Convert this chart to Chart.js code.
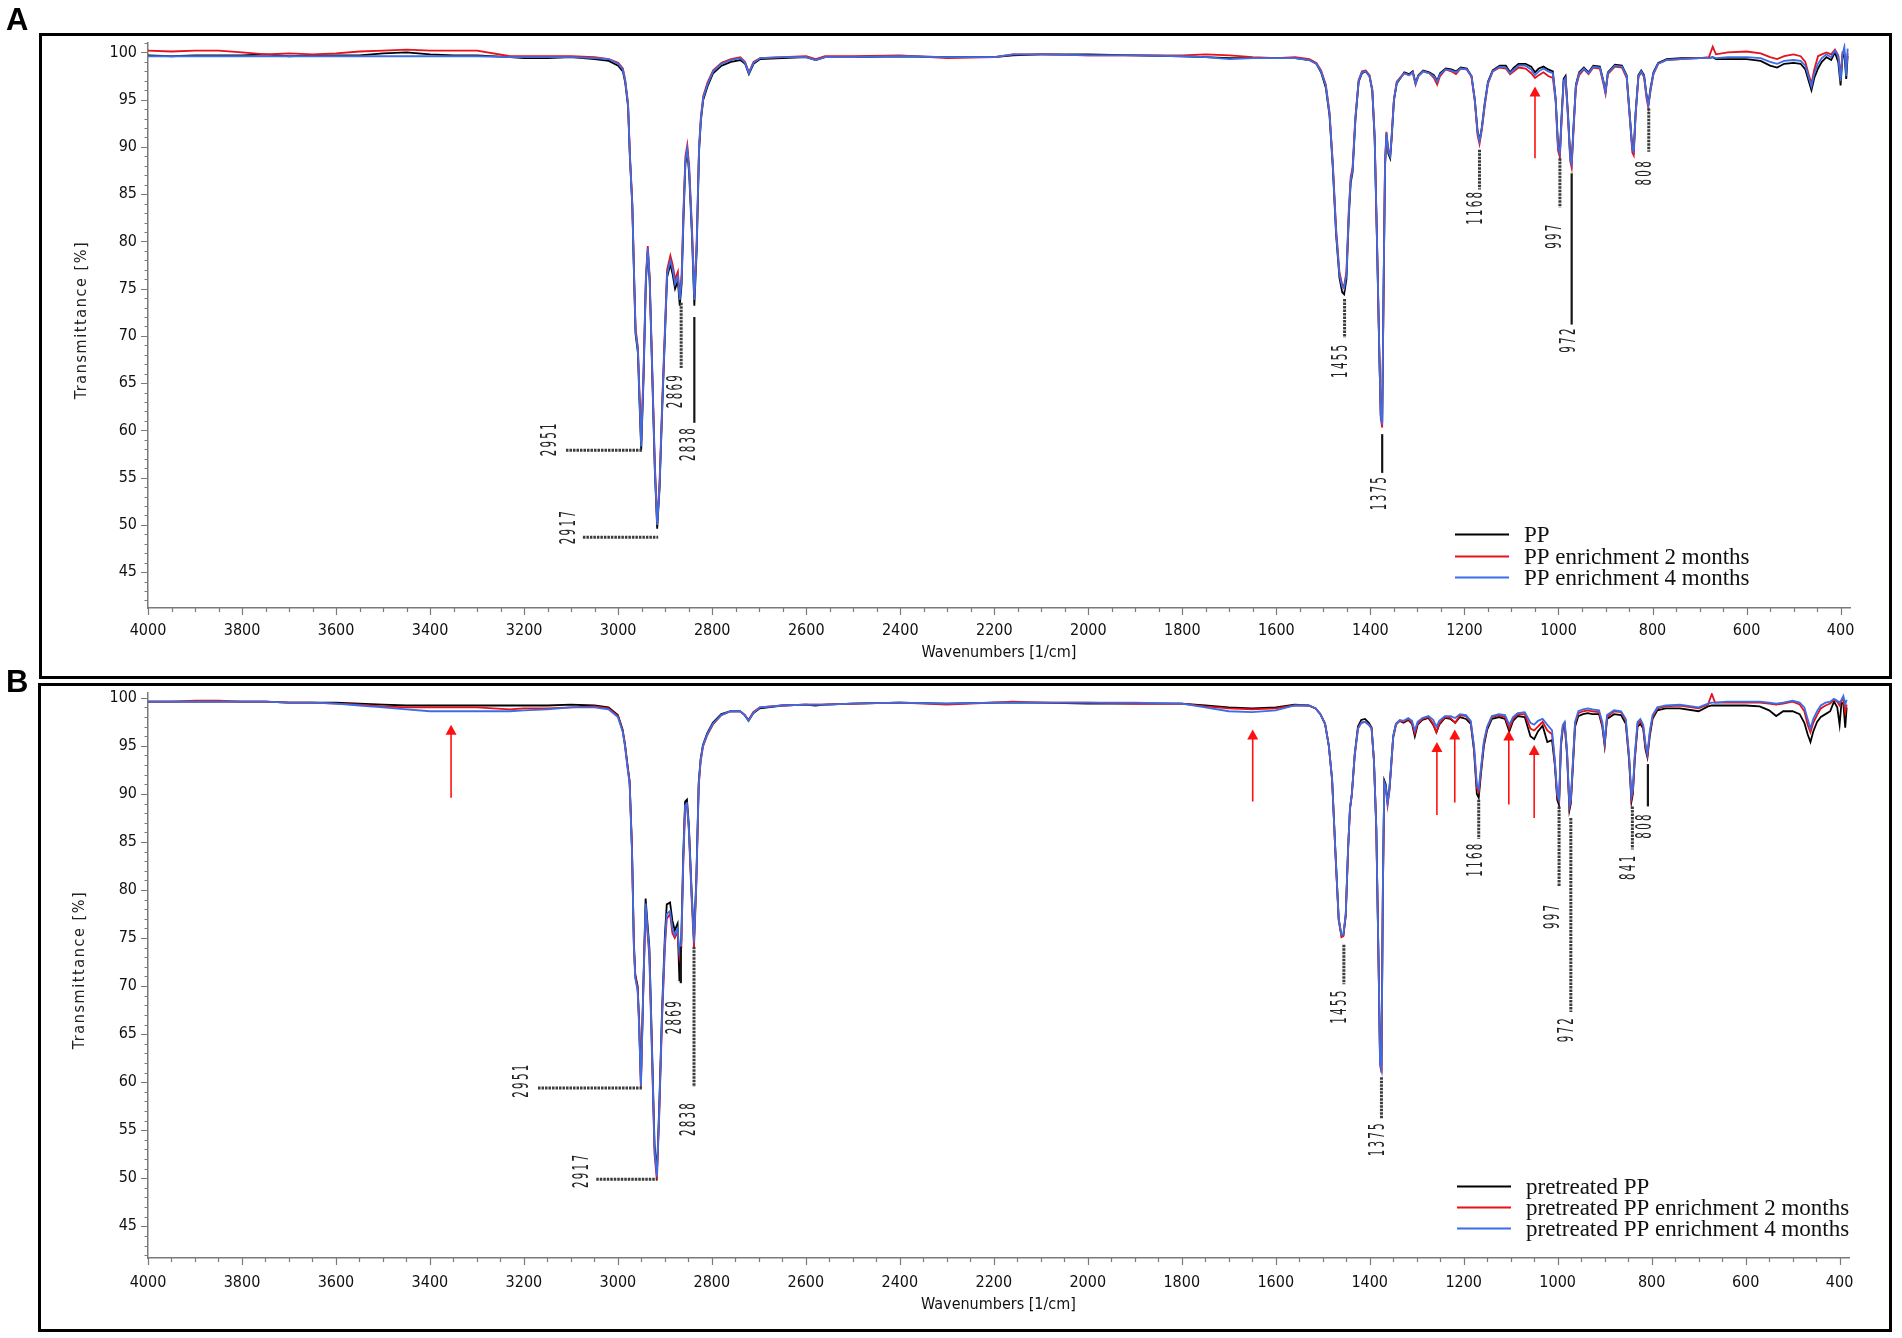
<!DOCTYPE html>
<html><head><meta charset="utf-8">
<script src="https://cdn.jsdelivr.net/npm/chart.js@4.4.1/dist/chart.umd.min.js"></script>
<style>
html,body{margin:0;padding:0;background:#fff;}
body{width:1902px;height:1338px;position:relative;overflow:hidden;}
canvas{position:absolute;left:0;}
#cA{top:0;width:1902px;height:680px;}
#cB{top:680px;width:1902px;height:658px;}
.box{position:absolute;border:3px solid #000;box-sizing:border-box;pointer-events:none;}
#boxA{left:39px;top:33px;width:1853px;height:646px;}
#boxB{left:38px;top:683px;width:1854px;height:649px;}
.tag{position:absolute;font:bold 31px "Liberation Sans",Arial,sans-serif;left:6px;line-height:1;}
#tagA{top:4px}
#tagB{top:666px}
</style></head>
<body>
<canvas id="cA" width="1902" height="680"></canvas>
<canvas id="cB" width="1902" height="658"></canvas>
<div class="box" id="boxA"></div><div class="box" id="boxB"></div>
<div class="tag" id="tagA">A</div><div class="tag" id="tagB">B</div>
<script>
// ---------------- DATA ----------------
const wavenumbers = [4000,3950,3900,3850,3800,3750,3700,3650,3600,3550,3500,3450,3400,3350,3300,
 3230,3200,3150,3100,3050,3020,3000,2990,2985,2979,
 2975,2970,2966,2963,2958,2955,2951,2946,2941,2937,
 2933,2928,2922,2917,2912,2906,2900,2896,2889,2884,
 2879,2873,2869,2865,2861,2857,2853,2849,2843,2838,
 2833,2828,2824,2819,2810,2798,2780,2760,2740,2730,
 2722,2712,2698,2650,2600,2580,2560,2500,2400,2300,
 2200,2160,2100,2000,1900,1800,1750,1700,1650,1600,
 1560,1530,1515,1505,1495,1487,1480,1473,1466,1460,
 1456,1451,1446,1442,1438,1432,1425,1418,1410,1402,
 1396,1391,1386,1381,1378,1375,1372,1369,1366,1362,
 1358,1355,1350,1344,1336,1328,1318,1310,1304,1298,
 1288,1275,1265,1258,1252,1240,1228,1218,1208,1195,
 1185,1178,1172,1168,1163,1157,1150,1140,1125,1112,
 1103,1095,1085,1070,1058,1050,1042,1032,1022,1012,
 1006,1001,997,993,989,985,980,975,972,968,
 963,956,946,936,926,912,905,900,895,880,
 865,855,848,843,840,836,830,824,818,813,
 809,804,798,788,770,740,700,680,672,665,
 640,600,570,550,535,520,500,485,475,468,
 462,456,448,440,430,420,412,405,400,396,
 392,388,385];

// Panel A
const ppA = [99.7,99.6,99.7,99.7,99.7,99.8,99.6,99.7,99.7,99.7,99.9,100.0,99.8,99.7,99.7,
 99.5,99.4,99.4,99.5,99.3,99.1,98.6,98.0,96.8,94.3,
 88.8,83.8,75.8,70.2,68.2,63.5,57.9,65.5,75.8,79.0,
 75.8,66.8,55.7,49.6,53.8,62.7,70.7,76.2,77.6,76.5,
 75.0,75.8,73.2,75.5,82.5,88.2,89.5,87.2,80.6,73.2,
 79.0,89.5,92.8,95.0,96.4,97.8,98.6,99.0,99.2,98.8,
 97.7,98.8,99.3,99.4,99.5,99.2,99.5,99.5,99.6,99.5,
 99.5,99.7,99.8,99.8,99.7,99.6,99.5,99.4,99.4,99.4,
 99.4,99.2,98.8,97.9,96.3,93.3,87.8,80.7,76.2,74.6,
 74.4,76.0,82.6,86.2,87.3,92.8,96.9,97.8,98.0,97.5,
 95.9,90.8,79.8,67.8,61.6,60.8,74.8,87.8,91.3,89.3,
 88.8,90.8,94.9,96.7,97.3,97.9,97.7,98.0,96.8,97.6,
 98.1,97.9,97.6,97.0,97.8,98.3,98.2,98.0,98.4,98.3,
 97.5,95.0,91.6,90.7,92.1,94.6,96.9,98.1,98.6,98.6,
 97.9,98.4,98.8,98.8,98.5,97.9,98.3,98.5,98.2,98.0,
 95.1,90.2,89.5,93.7,97.2,97.5,93.7,89.0,88.4,92.2,
 96.6,97.9,98.4,97.9,98.6,98.5,97.1,95.9,97.9,98.7,
 98.6,97.6,93.1,89.9,89.6,93.6,97.6,98.1,97.6,95.6,
 94.5,96.3,97.9,98.9,99.3,99.4,99.4,99.4,99.5,99.3,
 99.3,99.3,99.1,98.6,98.4,98.8,98.9,98.8,98.2,97.0,
 96.0,97.3,98.3,99.0,99.5,99.2,100.0,99.0,96.5,99.5,
 99.8,97.2,99.6];
const pp2A = [100.2,100.1,100.2,100.2,100.0,99.8,99.9,99.8,99.9,100.1,100.2,100.3,100.2,100.2,100.2,
 99.6,99.6,99.6,99.6,99.5,99.3,98.9,98.3,97.1,94.6,
 89.2,84.2,76.3,70.8,68.8,64.5,58.8,66.5,76.3,79.5,
 76.3,67.5,56.5,50.3,54.5,63.5,71.5,77.0,78.5,77.5,
 76.0,76.8,74.2,76.5,83.5,89.0,90.2,88.0,81.5,74.3,
 80.0,90.0,93.2,95.4,96.8,98.1,98.9,99.3,99.5,99.0,
 97.9,99.0,99.4,99.5,99.6,99.3,99.6,99.6,99.7,99.4,
 99.5,99.8,99.8,99.7,99.7,99.7,99.8,99.7,99.5,99.4,
 99.5,99.3,98.9,98.1,96.6,93.7,88.3,81.3,76.8,75.4,
 75.3,76.8,83.3,86.8,87.8,93.2,97.1,98.0,98.1,97.6,
 96.1,91.2,80.2,68.2,61.3,60.3,75.2,88.2,91.6,89.7,
 89.2,91.1,95.1,96.9,97.4,97.8,97.6,97.9,96.6,97.5,
 98.0,97.8,97.3,96.6,97.5,98.2,98.0,97.7,98.3,98.2,
 97.4,94.8,91.2,90.3,91.8,94.3,96.7,98.0,98.4,98.3,
 97.7,98.0,98.4,98.3,97.8,97.3,97.6,97.9,97.5,97.3,
 94.8,89.6,88.9,93.2,96.9,97.2,93.2,88.5,87.8,91.8,
 96.3,97.6,98.2,97.7,98.4,98.3,96.8,95.6,97.7,98.5,
 98.4,97.3,92.8,89.4,89.1,93.3,97.4,97.9,97.4,95.2,
 94.2,96.0,97.7,98.8,99.2,99.3,99.4,99.5,100.6,99.8,
 100.0,100.1,99.9,99.5,99.3,99.6,99.8,99.6,99.0,97.7,
 96.7,98.2,99.6,99.8,100.0,99.8,100.3,99.7,97.6,100.0,
 100.0,98.5,99.9];
const pp4A = [99.6,99.6,99.6,99.6,99.6,99.6,99.6,99.6,99.6,99.6,99.6,99.6,99.6,99.6,99.6,
 99.5,99.5,99.5,99.5,99.4,99.3,98.8,98.2,97.0,94.5,
 89.0,84.0,76.0,70.5,68.5,64.0,58.3,66.0,76.0,79.3,
 76.0,67.0,56.0,50.0,54.0,63.0,71.0,76.5,78.0,77.0,
 75.5,76.3,73.8,76.0,83.0,88.5,89.8,87.5,81.0,73.8,
 79.5,89.8,93.0,95.2,96.6,98.0,98.8,99.2,99.4,98.9,
 97.8,98.9,99.4,99.5,99.5,99.2,99.5,99.5,99.6,99.5,
 99.5,99.8,99.8,99.7,99.7,99.6,99.5,99.3,99.4,99.4,
 99.4,99.2,98.8,98.0,96.5,93.5,88.0,81.0,76.5,75.2,
 75.0,76.5,83.0,86.5,87.5,93.0,97.0,97.9,98.0,97.5,
 96.0,91.0,80.0,68.0,61.5,60.6,75.0,88.0,91.5,89.5,
 89.0,91.0,95.0,96.8,97.3,97.8,97.6,97.9,96.7,97.5,
 98.0,97.8,97.5,96.9,97.7,98.2,98.1,97.9,98.3,98.2,
 97.5,95.0,91.5,90.6,92.0,94.5,96.8,98.0,98.5,98.4,
 97.8,98.2,98.6,98.6,98.2,97.6,98.0,98.3,98.0,97.8,
 95.0,90.0,89.3,93.5,97.0,97.3,93.5,88.8,88.2,92.0,
 96.5,97.8,98.3,97.8,98.5,98.4,97.0,95.8,97.8,98.6,
 98.5,97.5,93.0,89.8,89.5,93.5,97.5,98.0,97.5,95.5,
 94.4,96.2,97.8,98.8,99.2,99.3,99.4,99.4,99.5,99.4,
 99.5,99.5,99.4,99.0,98.8,99.1,99.2,99.1,98.6,97.4,
 96.4,97.8,98.8,99.4,99.8,99.5,100.2,99.6,97.0,99.8,
 100.6,97.5,100.4];

// Panel B
const ppB = [99.6,99.6,99.6,99.6,99.6,99.6,99.5,99.5,99.5,99.4,99.3,99.2,99.2,99.2,99.2,
 99.2,99.2,99.2,99.3,99.2,99.0,98.2,96.7,95.2,92.8,
 91.3,84.4,74.5,71.2,70.0,66.5,60.0,69.8,79.1,76.5,
 74.0,64.8,53.5,50.5,57.5,67.5,75.2,78.5,78.7,76.8,
 75.8,76.5,70.5,75.0,83.5,89.2,89.4,86.8,79.8,74.8,
 81.3,91.2,93.6,95.1,96.3,97.4,98.3,98.6,98.6,98.2,
 97.6,98.4,98.9,99.2,99.3,99.2,99.3,99.4,99.5,99.4,
 99.5,99.5,99.5,99.4,99.4,99.4,99.2,99.0,98.9,99.0,
 99.3,99.2,98.9,98.3,97.3,95.0,91.5,84.0,77.0,75.2,
 75.3,77.4,84.3,88.5,90.0,94.1,97.0,97.7,97.8,97.4,
 96.9,93.5,86.5,72.0,62.3,61.6,80.2,91.4,91.0,89.2,
 90.6,92.6,96.0,97.3,97.6,97.4,97.7,97.3,96.0,97.2,
 97.7,97.9,97.2,96.4,97.2,97.9,97.8,97.4,98.0,97.8,
 97.3,94.5,90.0,89.6,92.2,95.0,96.7,97.8,98.0,97.8,
 96.5,97.6,98.1,98.0,96.0,95.7,96.5,97.1,95.4,95.6,
 93.0,89.4,88.8,95.0,96.8,97.2,94.0,88.3,89.0,92.5,
 97.0,98.1,98.3,98.4,98.3,98.3,97.0,95.0,97.8,98.3,
 98.2,97.3,93.5,89.2,90.0,93.5,97.0,97.3,96.8,94.6,
 93.8,96.0,97.8,98.7,98.9,98.9,98.6,99.1,99.2,99.2,
 99.2,99.2,99.1,98.7,98.1,98.6,98.6,98.3,97.4,96.2,
 95.4,96.5,97.5,98.0,98.3,98.6,99.6,99.0,97.2,99.5,
 99.4,96.9,99.0];
const pp2B = [99.6,99.6,99.7,99.7,99.6,99.6,99.5,99.5,99.4,99.3,99.1,99.0,99.0,99.0,99.0,
 98.8,98.9,98.9,99.0,99.1,98.9,98.1,96.6,95.1,92.7,
 91.2,84.2,74.3,71.0,69.8,66.5,59.4,69.5,78.2,75.5,
 73.0,63.8,52.5,49.8,56.5,66.5,74.0,77.0,77.5,75.5,
 75.0,75.6,73.0,74.0,82.5,88.5,88.8,86.2,79.0,74.0,
 80.6,90.8,93.3,94.9,96.1,97.2,98.2,98.6,98.6,98.2,
 97.7,98.5,99.0,99.2,99.3,99.3,99.3,99.4,99.5,99.3,
 99.5,99.6,99.5,99.5,99.4,99.4,99.1,98.9,98.8,98.9,
 99.2,99.2,98.9,98.3,97.3,95.0,91.4,83.8,76.8,75.1,
 75.2,77.3,84.2,88.4,89.9,93.9,96.8,97.4,97.5,97.2,
 96.8,93.4,86.3,71.8,61.8,61.0,79.8,91.0,90.6,88.8,
 90.3,92.3,95.8,97.2,97.6,97.5,97.8,97.4,96.3,97.3,
 97.8,98.0,97.3,96.4,97.3,98.0,97.9,97.4,98.2,98.1,
 97.5,94.8,90.6,90.2,92.6,95.3,96.9,98.0,98.2,98.0,
 96.8,97.8,98.3,98.3,96.8,96.6,97.0,97.5,96.6,96.2,
 93.3,89.8,89.2,95.3,97.0,97.3,94.3,88.6,89.2,92.8,
 97.3,98.4,98.6,98.7,98.6,98.5,97.2,95.2,98.0,98.6,
 98.5,97.6,93.8,89.5,90.2,93.7,97.3,97.6,97.0,94.9,
 94.0,96.3,98.0,98.9,99.1,99.2,98.9,99.3,100.4,99.5,
 99.5,99.5,99.5,99.4,99.3,99.4,99.6,99.3,98.6,97.2,
 96.4,97.4,98.2,98.9,99.2,99.4,99.8,99.6,99.2,99.7,
 99.8,98.5,99.3];
const pp4B = [99.6,99.6,99.6,99.6,99.6,99.6,99.5,99.5,99.4,99.2,99.0,98.8,98.6,98.6,98.6,
 98.6,98.7,98.8,99.0,99.0,98.8,98.0,96.5,95.0,92.5,
 91.0,84.0,74.0,70.8,69.5,66.0,59.6,69.3,78.6,76.0,
 73.6,64.3,53.0,50.2,57.0,67.0,74.5,77.5,77.8,76.0,
 75.3,76.0,73.5,74.5,83.0,88.8,89.0,86.5,79.5,74.5,
 81.0,91.0,93.5,95.0,96.2,97.3,98.2,98.6,98.6,98.2,
 97.6,98.4,99.0,99.2,99.3,99.3,99.3,99.4,99.5,99.4,
 99.5,99.5,99.5,99.5,99.5,99.4,99.0,98.6,98.5,98.7,
 99.2,99.2,98.9,98.3,97.3,95.0,91.5,84.0,77.0,75.3,
 75.4,77.5,84.4,88.5,90.0,94.0,96.8,97.4,97.5,97.2,
 96.8,93.5,86.5,72.0,62.0,61.3,80.0,91.2,90.8,89.0,
 90.5,92.5,96.0,97.3,97.7,97.6,97.9,97.6,96.6,97.5,
 97.9,98.1,97.7,97.0,97.6,98.1,98.1,97.9,98.3,98.2,
 97.6,95.0,91.0,90.5,92.8,95.5,97.0,98.1,98.3,98.2,
 97.2,98.0,98.4,98.5,97.4,97.2,97.6,97.8,97.2,96.6,
 93.5,90.0,89.4,95.5,97.2,97.5,94.5,88.8,89.5,93.0,
 97.5,98.6,98.8,98.9,98.8,98.7,97.5,95.4,98.2,98.7,
 98.6,97.8,94.0,89.8,90.5,94.0,97.5,97.8,97.2,95.2,
 94.2,96.5,98.2,99.0,99.2,99.3,99.0,99.4,99.5,99.5,
 99.6,99.6,99.6,99.5,99.4,99.5,99.7,99.5,99.0,97.8,
 96.8,97.8,98.6,99.2,99.5,99.6,99.9,99.7,99.5,99.8,
 100.2,99.3,99.8];

const labelsA = ['PP', 'PP enrichment 2 months', 'PP enrichment 4 months'];
const labelsB = ['pretreated PP', 'pretreated PP enrichment 2 months', 'pretreated PP enrichment 4 months'];

const xTicks = [4000,3800,3600,3400,3200,3000,2800,2600,2400,2200,2000,1800,1600,1400,1200,1000,800,600,400];
const yTicks = [45,50,55,60,65,70,75,80,85,90,95,100];

// peak marks: [label, x1, T1, x2, T2, labelX, labelT]  (wavenumber / transmittance)
const peaksA = [
 ['2951',3111,57.9,2949,57.9,3145,59.0],
 ['2917',3075,48.7,2915,48.7,3103,49.7],
 ['2869',2866,73.5,2866,66.6,2877,64.1],
 ['2838',2838,72.0,2838,60.8,2849,58.5],
 ['1455',1455,73.9,1455,69.8,1461,67.3],
 ['1375',1375,59.6,1375,55.5,1378,53.3],
 ['1168',1168,89.7,1168,85.5,1174,83.5],
 ['997',997,88.8,997,83.6,1006,80.5],
 ['972',972,87.2,972,71.2,978,69.5],
 ['808',808,94.1,808,89.5,816,87.2]
];
const peaksB = [
 ['2951',3170,59.4,2949,59.4,3203,60.1],
 ['2917',3046,49.9,2916,49.9,3075,50.7],
 ['2869',2866,74.1,2866,70.3,2877,66.7],
 ['2838',2838,74.1,2838,59.5,2848,56.1],
 ['1455',1455,74.3,1455,70.2,1462,67.8],
 ['1375',1375,60.5,1375,56.2,1382,54.0],
 ['1168',1168,89.4,1168,85.3,1174,83.1],
 ['997',997,88.7,997,80.4,1009,77.2],
 ['972',972,87.5,972,67.3,979,65.4],
 ['841',841,88.7,841,84.2,847,82.3],
 ['808',808,93.1,808,88.7,813,86.6]
];
// red arrows: [wavenumber, tail T, tip T]
const arrowsA = [[1050,88.8,96.4]];
const arrowsB = [[3355,89.6,97.2],[1649,89.2,96.7],[1257,87.8,95.4],[1219,89.1,96.7],[1104,88.9,96.6],[1050,87.5,95.1]];

// ---------------- RENDERING ----------------
[['ppA',ppA],['pp2A',pp2A],['pp4A',pp4A],['ppB',ppB],['pp2B',pp2B],['pp4B',pp4B]].forEach(([n,a])=>{
  if (a.length !== wavenumbers.length) throw new Error('length mismatch ' + n + ' ' + a.length + ' vs ' + wavenumbers.length);
});

const SANS = '"DejaVu Sans Condensed","DejaVu Sans",sans-serif';
Chart.defaults.font.family = SANS;
Chart.defaults.color = '#111';
const COLORS = ['#000000', '#e8101a', '#3b6de6'];

function drawRotLabel(ctx, text, cx, cy) {
  const adv = 8.8;
  ctx.save();
  ctx.translate(cx, cy);
  ctx.rotate(-Math.PI / 2);
  ctx.font = '22px "DejaVu Sans", sans-serif';
  ctx.fillStyle = '#222';
  ctx.textAlign = 'center';
  ctx.textBaseline = 'middle';
  const start = -adv * (text.length - 1) / 2;
  for (let i = 0; i < text.length; i++) {
    ctx.save();
    ctx.translate(start + i * adv, 0);
    ctx.scale(0.47, 1);
    ctx.fillText(text[i], 0, 0);
    ctx.restore();
  }
  ctx.restore();
}

function decoPlugin(cfg) {
  return {
    id: 'deco',
    afterDraw(chart) {
      const ctx = chart.ctx, xs = chart.scales.x, ys = chart.scales.y, ca = chart.chartArea;
      ctx.save();
      // tick marks
      ctx.strokeStyle = '#7a7a7a'; ctx.lineWidth = 1.2;
      ctx.beginPath();
      for (let v = 400; v <= 4000; v += 50) {
        const px = Math.round(xs.getPixelForValue(v)) + 0.5;
        const len = (v % 200 === 0) ? 7 : 4;
        ctx.moveTo(px, ca.bottom); ctx.lineTo(px, ca.bottom + len);
      }
      for (let v = Math.ceil(ys.min); v <= Math.floor(ys.max); v++) {
        const py = Math.round(ys.getPixelForValue(v)) + 0.5;
        const len = (v % 5 === 0) ? 7 : 3.5;
        ctx.moveTo(ca.left, py); ctx.lineTo(ca.left - len, py);
      }
      ctx.stroke();

      // peak marks
      for (const p of cfg.peaks) {
        const [name, x1, y1, x2, y2, lx, ly] = p;
        const solid = cfg.solid.includes(name);
        ctx.beginPath();
        ctx.setLineDash(solid ? [] : [2.5, 1]);
        ctx.lineWidth = solid ? 2.2 : 3;
        ctx.strokeStyle = solid ? '#151515' : '#3c3c3c';
        ctx.moveTo(xs.getPixelForValue(x1), ys.getPixelForValue(y1));
        ctx.lineTo(xs.getPixelForValue(x2), ys.getPixelForValue(y2));
        ctx.stroke();
        ctx.setLineDash([]);
        drawRotLabel(ctx, name, xs.getPixelForValue(lx), ys.getPixelForValue(ly));
      }

      // red arrows
      ctx.setLineDash([]);
      for (const [x, yb, yt] of cfg.arrows) {
        const px = xs.getPixelForValue(x), pb = ys.getPixelForValue(yb), pt = ys.getPixelForValue(yt);
        ctx.strokeStyle = '#ff1010'; ctx.lineWidth = 1.6;
        ctx.beginPath(); ctx.moveTo(px, pb); ctx.lineTo(px, pt + 8); ctx.stroke();
        ctx.fillStyle = '#ff1010';
        ctx.beginPath(); ctx.moveTo(px, pt); ctx.lineTo(px - 5.5, pt + 10); ctx.lineTo(px + 5.5, pt + 10); ctx.closePath(); ctx.fill();
      }

      // legend
      const L = cfg.legend;
      ctx.font = '23px "Liberation Serif", "Times New Roman", serif';
      ctx.textAlign = 'left'; ctx.textBaseline = 'alphabetic';
      chart.data.datasets.forEach((ds, i) => {
        const y = L.ys[i];
        ctx.strokeStyle = ds.borderColor; ctx.lineWidth = 2;
        ctx.beginPath(); ctx.moveTo(L.x1, y + 0.5); ctx.lineTo(L.x2, y + 0.5); ctx.stroke();
        ctx.fillStyle = '#111';
        ctx.fillText(ds.label, L.tx, y + 7.5);
      });

      // y title
      ctx.save();
      ctx.font = '16px ' + SANS;
      ctx.letterSpacing = '1.6px';
      ctx.fillStyle = '#222';
      ctx.translate(cfg.yTitle[0], cfg.yTitle[1]);
      ctx.rotate(-Math.PI / 2);
      ctx.textAlign = 'center'; ctx.textBaseline = 'middle';
      ctx.fillText('Transmittance [%]', 0, 0);
      ctx.restore();

      ctx.restore();
    }
  };
}

function makeChart(id, series, labels, cfg) {
  const datasets = series.map((arr, i) => ({
    label: labels[i],
    data: wavenumbers.map((w, k) => ({ x: w, y: arr[k] })),
    borderColor: COLORS[i],
    backgroundColor: COLORS[i],
    borderWidth: 1.8,
    pointRadius: 0,
    tension: 0,
    fill: false,
    order: 3 - i
  }));
  const axisCommon = {
    grid: { drawOnChartArea: false, drawTicks: true, tickLength: 8, color: 'rgba(0,0,0,0)' },
    border: { display: true, color: '#7a7a7a', width: 1.5 }
  };
  return new Chart(document.getElementById(id), {
    type: 'line',
    data: { datasets },
    options: {
      responsive: false,
      animation: false,
      devicePixelRatio: 1,
      parsing: false,
      layout: { padding: { top: cfg.padTop, right: cfg.padRight, left: 0, bottom: 0 } },
      plugins: { legend: { display: false }, tooltip: { enabled: false } },
      scales: {
        x: Object.assign({}, axisCommon, {
          type: 'linear', reverse: true, min: 380, max: 4000,
          afterBuildTicks: s => { s.ticks = xTicks.map(v => ({ value: v })); },
          afterFit: s => { s.height = cfg.xHeight; },
          ticks: { color: '#111', font: { size: 16 }, padding: cfg.tickPad, maxRotation: 0, autoSkip: false, callback: v => String(v) },
          title: { display: true, text: 'Wavenumbers [1/cm]', color: '#111', font: { size: 16 }, padding: { top: 0, bottom: cfg.titlePad } }
        }),
        y: Object.assign({}, axisCommon, {
          type: 'linear', min: cfg.yMin, max: cfg.yMax,
          afterBuildTicks: s => { s.ticks = yTicks.map(v => ({ value: v })); },
          afterFit: s => { s.width = 148; },
          ticks: { color: '#111', font: { size: 16 }, padding: 3, callback: v => String(v) }
        })
      }
    },
    plugins: [decoPlugin(cfg)]
  });
}

makeChart('cA', [ppA, pp2A, pp4A], labelsA, {
  padTop: 43, padRight: 52, xHeight: 72, yMin: 41.2, yMax: 101, tickPad: 5, titlePad: 18,
  peaks: peaksA, solid: ['2838', '1375', '972'], arrows: arrowsA,
  legend: { x1: 1455, x2: 1509, tx: 1524, ys: [534, 556, 577] },
  yTitle: [82, 320]
});
makeChart('cB', [ppB, pp2B, pp4B], labelsB, {
  padTop: 13, padRight: 53, xHeight: 80, yMin: 41.7, yMax: 100.5, tickPad: 7, titlePad: 24,
  peaks: peaksB, solid: ['2869', '808'], arrows: arrowsB,
  legend: { x1: 1457, x2: 1511, tx: 1526, ys: [506, 527, 548] },
  yTitle: [80, 290]
});
</script>
</body></html>
